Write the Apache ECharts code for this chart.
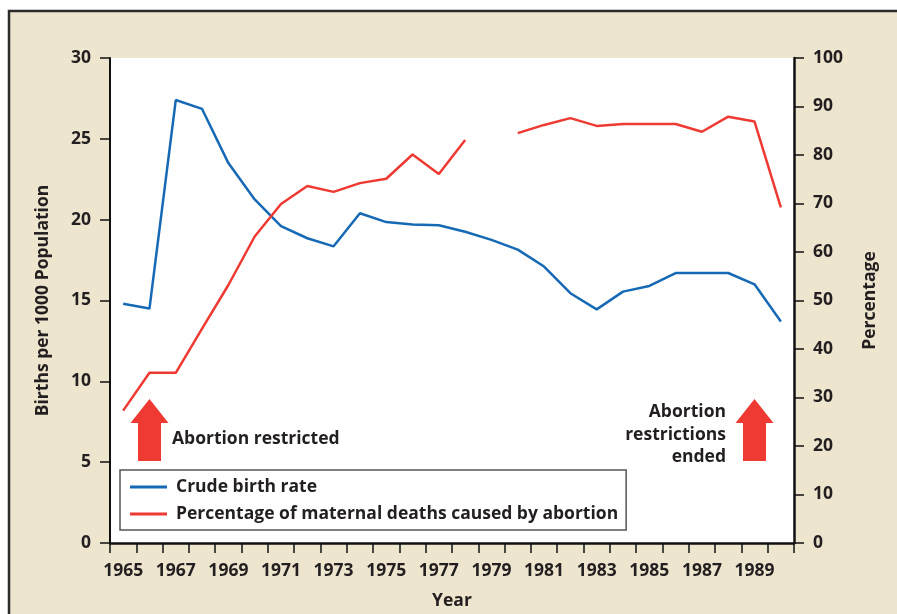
<!DOCTYPE html>
<html>
<head>
<meta charset="utf-8">
<script src="https://cdn.jsdelivr.net/npm/echarts@6/dist/echarts.min.js"></script>
<style>
html,body{margin:0;padding:0;background:#fff;}
#chart{width:897px;height:614px;}
</style>
</head>
<body>
<div id="chart"></div>
<script>
var years = ['1965','1966','1967','1968','1969','1970','1971','1972','1973','1974','1975','1976','1977','1978','1979','1980','1981','1982','1983','1984','1985','1986','1987','1988','1989','1990'];
var crudeBirthRate = [14.8,14.5,27.4,26.85,23.5,21.25,19.6,18.85,18.35,20.4,19.85,19.7,19.65,19.25,18.75,18.15,17.1,15.45,14.45,15.55,15.9,16.7,16.7,16.7,16.0,13.7];
var abortionDeathPct = [27.3,35.1,35.1,44.2,53.2,63.2,69.9,73.6,72.4,74.2,75.1,80.1,76.1,83.1,null,84.5,86.2,87.6,86.0,86.4,86.4,86.4,84.8,87.9,86.9,69.2];
var seriesNames = ['Crude birth rate','Percentage of maternal deaths caused by abortion'];

var FONT = 'Open Sans';
var TXT = '#231f20';
var BLUE = '#1669b5';
var RED = '#ee3a33';
var chart = echarts.init(document.getElementById('chart'));

function arrow(cx){
  return {
    type:'polygon',
    shape:{points:[[cx,399],[cx+19,423],[cx+11.5,423],[cx+11.5,461],[cx-11.5,461],[cx-11.5,423],[cx-19,423]]},
    style:{fill:RED},
    z:10
  };
}

chart.setOption({
  backgroundColor:'#fff',
  animation:false,
  textStyle:{fontFamily:FONT},
  graphic:[
    {type:'rect',shape:{x:9,y:11,width:900,height:700},style:{fill:'#eee5cf',stroke:'#2b2b2b',lineWidth:2.5},z:-10,silent:true},
    arrow(149.5),
    arrow(754.5),
    {type:'text',x:172,y:430,style:{text:'Abortion restricted',fill:TXT,font:'bold 17.5px "Open Sans"'},z:10},
    {type:'text',x:726,y:401,style:{text:'Abortion\nrestrictions\nended',fill:TXT,font:'bold 17.5px "Open Sans"',align:'right',lineHeight:22.5},z:10}
  ],
  grid:{left:110,right:103,top:58,bottom:71,show:true,backgroundColor:'#fff',borderWidth:0,outerBoundsMode:'none',containLabel:false},
  legend:{
    left:120,top:470,orient:'vertical',
    backgroundColor:'#fff',borderColor:'#555',borderWidth:1.5,borderRadius:0,
    padding:[7,8,6,10],itemGap:7,itemWidth:37,itemHeight:3,
    icon:'rect',
    textStyle:{fontFamily:FONT,fontWeight:'bold',fontSize:17.5,color:TXT,padding:[0,0,0,4],lineHeight:20},
    data:seriesNames
  },
  xAxis:{
    type:'category',data:years,boundaryGap:true,
    name:'Year',nameLocation:'middle',nameGap:49,
    nameTextStyle:{fontFamily:FONT,fontWeight:'bold',fontSize:17.5,color:TXT},
    axisLine:{lineStyle:{color:'#111',width:2.5}},
    axisTick:{show:true,interval:0,length:10,lineStyle:{color:'#111',width:1.5}},
    axisLabel:{interval:1,margin:19,fontFamily:FONT,fontWeight:'bold',fontSize:17.5,color:TXT},
    splitLine:{show:false}
  },
  yAxis:[
    {type:'value',min:0,max:30,interval:5,position:'left',
     name:'Births per 1000 Population',nameLocation:'middle',nameGap:58,nameRotate:90,
     nameTextStyle:{fontFamily:FONT,fontWeight:'bold',fontSize:17.5,color:TXT},
     axisLine:{show:true,lineStyle:{color:'#111',width:2}},
     axisTick:{show:true,length:10,lineStyle:{color:'#111',width:1.5}},
     axisLabel:{margin:19,fontFamily:FONT,fontWeight:'bold',fontSize:17.5,color:TXT},
     splitLine:{show:false}},
    {type:'value',min:0,max:100,interval:10,position:'right',
     name:'Percentage',nameLocation:'middle',nameGap:67,nameRotate:90,
     nameTextStyle:{fontFamily:FONT,fontWeight:'bold',fontSize:17.5,color:TXT},
     axisLine:{show:true,lineStyle:{color:'#111',width:2.5}},
     axisTick:{show:true,length:10,lineStyle:{color:'#111',width:1.5}},
     axisLabel:{margin:19,fontFamily:FONT,fontWeight:'bold',fontSize:17.5,color:TXT},
     splitLine:{show:false}}
  ],
  series:[
    {name:seriesNames[0],type:'line',yAxisIndex:0,data:crudeBirthRate,symbol:'none',
     lineStyle:{color:BLUE,width:2.5},itemStyle:{color:BLUE}},
    {name:seriesNames[1],type:'line',yAxisIndex:1,data:abortionDeathPct,symbol:'none',connectNulls:false,
     lineStyle:{color:RED,width:2.5},itemStyle:{color:RED}}
  ]
});
</script>
</body>
</html>
